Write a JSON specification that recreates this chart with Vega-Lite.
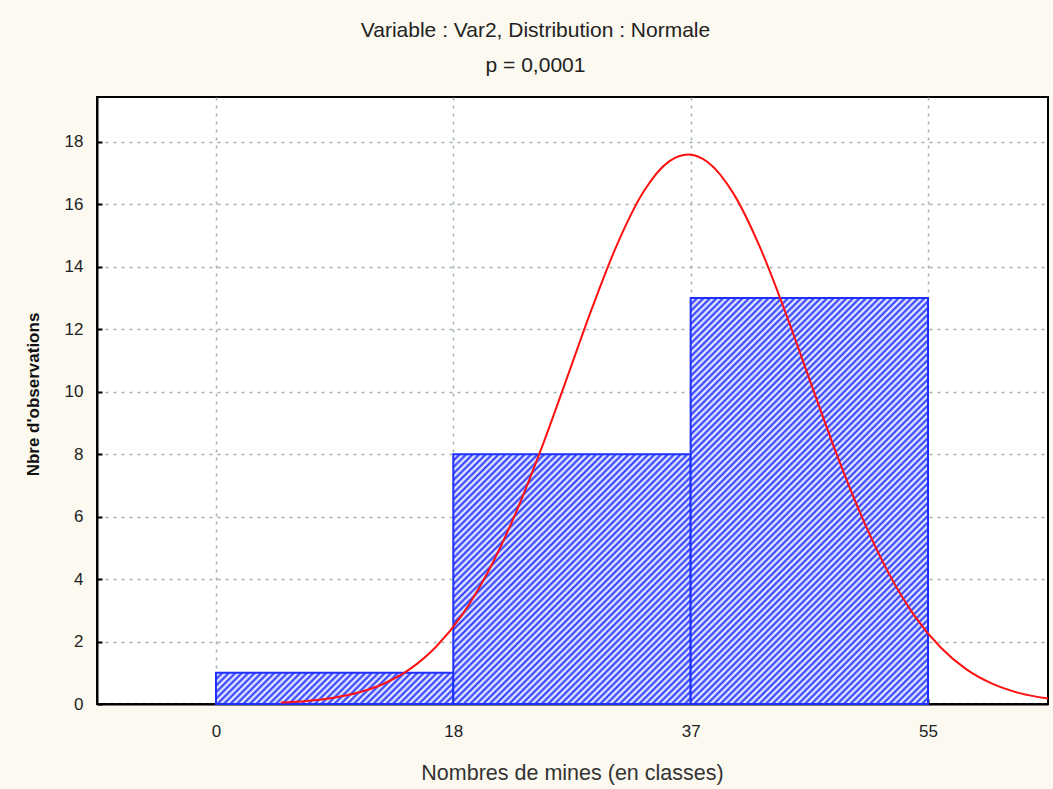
{
  "$schema": "https://vega.github.io/schema/vega-lite/v6.json",
  "width": 951,
  "height": 607,
  "autosize": {"type": "none"},
  "padding": {"left": 97, "top": 97, "right": 5, "bottom": 85},
  "background": "#fcf9f0",
  "title": {
    "text": ["Variable : Var2, Distribution : Normale", "p = 0,0001"],
    "font": "Liberation Sans",
    "fontSize": 21,
    "fontWeight": "normal",
    "color": "#222222",
    "lineHeight": 35,
    "anchor": "middle",
    "baseline": "bottom",
    "dx": -37,
    "dy": 18,
    "offset": 18
  },
  "datasets": {
    "bars": [
      {"bin": "a", "x": 0, "x2": 18.333, "y": 1},
      {"bin": "b", "x": 18.333, "x2": 36.667, "y": 8},
      {"bin": "c", "x": 36.667, "x2": 55, "y": 13}
    ],
    "curve": [
      {"x": 5, "y": 0.048}, {"x": 7, "y": 0.099}, {"x": 9, "y": 0.195}, {"x": 11, "y": 0.366},
      {"x": 13, "y": 0.657}, {"x": 15, "y": 1.124}, {"x": 17, "y": 1.833}, {"x": 19, "y": 2.848},
      {"x": 21, "y": 4.22}, {"x": 23, "y": 5.965}, {"x": 25, "y": 8.033}, {"x": 27, "y": 10.31},
      {"x": 29, "y": 12.62}, {"x": 31, "y": 14.73}, {"x": 33, "y": 16.39}, {"x": 35, "y": 17.38},
      {"x": 36.5, "y": 17.6}, {"x": 38, "y": 17.35}, {"x": 40, "y": 16.33}, {"x": 42, "y": 14.65},
      {"x": 44, "y": 12.53}, {"x": 46, "y": 10.22}, {"x": 48, "y": 7.94}, {"x": 50, "y": 5.89},
      {"x": 52, "y": 4.16}, {"x": 54, "y": 2.8}, {"x": 56, "y": 1.8}, {"x": 58, "y": 1.1},
      {"x": 60, "y": 0.643}, {"x": 62, "y": 0.357}, {"x": 64.27, "y": 0.173}
    ]
  },
  "config": {
    "view": {"fill": "white", "stroke": "black", "strokeWidth": 2},
    "axis": {
      "labelFont": "Liberation Sans",
      "titleFont": "Liberation Sans",
      "labelFontSize": 17,
      "labelColor": "#222222",
      "domainColor": "black",
      "domainWidth": 2,
      "ticks": true,
      "tickSize": -5,
      "tickColor": "black",
      "tickWidth": 2,
      "grid": true,
      "gridColor": "#a2b2b0",
      "gridDash": [3, 5],
      "gridWidth": 1.5
    }
  },
  "layer": [
    {
      "data": {"name": "bars"},
      "transform": [{"filter": "datum.bin == 'a'"}],
      "mark": {
        "type": "rect",
        "stroke": "#1f30ff",
        "strokeWidth": 2,
        "fill": {
          "gradient": "linear", "x1": 0, "y1": 0, "x2": 2.6926, "y2": 0.3543,
          "stops": [
            {"offset":0,"color":"#23f"},{"offset":0.005,"color":"#fff"},{"offset":0.01,"color":"#23f"},{"offset":0.015,"color":"#fff"},
            {"offset":0.02,"color":"#23f"},{"offset":0.025,"color":"#fff"},{"offset":0.03,"color":"#23f"},{"offset":0.035,"color":"#fff"},
            {"offset":0.04,"color":"#23f"},{"offset":0.045,"color":"#fff"},{"offset":0.05,"color":"#23f"},{"offset":0.055,"color":"#fff"},
            {"offset":0.06,"color":"#23f"},{"offset":0.065,"color":"#fff"},{"offset":0.07,"color":"#23f"},{"offset":0.075,"color":"#fff"},
            {"offset":0.08,"color":"#23f"},{"offset":0.085,"color":"#fff"},{"offset":0.09,"color":"#23f"},{"offset":0.095,"color":"#fff"},
            {"offset":0.1,"color":"#23f"},{"offset":0.105,"color":"#fff"},{"offset":0.11,"color":"#23f"},{"offset":0.115,"color":"#fff"},
            {"offset":0.12,"color":"#23f"},{"offset":0.125,"color":"#fff"},{"offset":0.13,"color":"#23f"},{"offset":0.135,"color":"#fff"},
            {"offset":0.14,"color":"#23f"},{"offset":0.145,"color":"#fff"},{"offset":0.15,"color":"#23f"},{"offset":0.155,"color":"#fff"},
            {"offset":0.16,"color":"#23f"},{"offset":0.165,"color":"#fff"},{"offset":0.17,"color":"#23f"},{"offset":0.175,"color":"#fff"},
            {"offset":0.18,"color":"#23f"},{"offset":0.185,"color":"#fff"},{"offset":0.19,"color":"#23f"},{"offset":0.195,"color":"#fff"},
            {"offset":0.2,"color":"#23f"},{"offset":0.205,"color":"#fff"},{"offset":0.21,"color":"#23f"},{"offset":0.215,"color":"#fff"},
            {"offset":0.22,"color":"#23f"},{"offset":0.225,"color":"#fff"},{"offset":0.23,"color":"#23f"},{"offset":0.235,"color":"#fff"},
            {"offset":0.24,"color":"#23f"},{"offset":0.245,"color":"#fff"},{"offset":0.25,"color":"#23f"},{"offset":0.255,"color":"#fff"},
            {"offset":0.26,"color":"#23f"},{"offset":0.265,"color":"#fff"},{"offset":0.27,"color":"#23f"},{"offset":0.275,"color":"#fff"},
            {"offset":0.28,"color":"#23f"},{"offset":0.285,"color":"#fff"},{"offset":0.29,"color":"#23f"},{"offset":0.295,"color":"#fff"},
            {"offset":0.3,"color":"#23f"},{"offset":0.305,"color":"#fff"},{"offset":0.31,"color":"#23f"},{"offset":0.315,"color":"#fff"},
            {"offset":0.32,"color":"#23f"},{"offset":0.325,"color":"#fff"},{"offset":0.33,"color":"#23f"},{"offset":0.335,"color":"#fff"},
            {"offset":0.34,"color":"#23f"},{"offset":0.345,"color":"#fff"},{"offset":0.35,"color":"#23f"},{"offset":0.355,"color":"#fff"},
            {"offset":0.36,"color":"#23f"},{"offset":0.365,"color":"#fff"},{"offset":0.37,"color":"#23f"},{"offset":0.375,"color":"#fff"},
            {"offset":0.38,"color":"#23f"},{"offset":0.385,"color":"#fff"},{"offset":0.39,"color":"#23f"},{"offset":0.395,"color":"#fff"},
            {"offset":0.4,"color":"#23f"},{"offset":0.405,"color":"#fff"},{"offset":0.41,"color":"#23f"},{"offset":0.415,"color":"#fff"}
          ]
        }
      },
      "encoding": {
        "x": {
          "field": "x", "type": "quantitative",
          "scale": {"domain": [-9.19, 64.27], "nice": false, "zero": false},
          "axis": {
            "title": "Nombres de mines (en classes)",
            "titleFontSize": 21.5,
            "titleFontWeight": "normal",
            "titleColor": "#333333",
            "titleX": 475,
            "titleY": 69,
            "titleBaseline": "middle",
            "titleAlign": "center",
            "values": [0, 18.333, 36.667, 55],
            "format": "d",
            "labelPadding": 24
          }
        },
        "x2": {"field": "x2"},
        "y": {
          "field": "y", "type": "quantitative",
          "scale": {"domain": [0, 19.44], "nice": false},
          "axis": {
            "title": "Nbre d'observations",
            "titleFontSize": 17,
            "titleFontWeight": "bold",
            "titleColor": "#111111",
            "titleX": -64,
            "titleY": 297,
            "titleAngle": 270,
            "titleAlign": "center",
            "titleBaseline": "middle",
            "values": [0, 2, 4, 6, 8, 10, 12, 14, 16, 18],
            "format": "d",
            "labelPadding": 19
          }
        },
        "y2": {"datum": 0}
      }
    },
    {
      "data": {"name": "bars"},
      "transform": [{"filter": "datum.bin == 'b'"}],
      "mark": {
        "type": "rect",
        "stroke": "#1f30ff",
        "strokeWidth": 2,
        "fill": {
          "gradient": "linear", "x1": 0, "y1": 0, "x2": 1.2993, "y2": 1.3678,
          "stops": [
            {"offset":0,"color":"#23f"},{"offset":0.005,"color":"#fff"},{"offset":0.01,"color":"#23f"},{"offset":0.015,"color":"#fff"},
            {"offset":0.02,"color":"#23f"},{"offset":0.025,"color":"#fff"},{"offset":0.03,"color":"#23f"},{"offset":0.035,"color":"#fff"},
            {"offset":0.04,"color":"#23f"},{"offset":0.045,"color":"#fff"},{"offset":0.05,"color":"#23f"},{"offset":0.055,"color":"#fff"},
            {"offset":0.06,"color":"#23f"},{"offset":0.065,"color":"#fff"},{"offset":0.07,"color":"#23f"},{"offset":0.075,"color":"#fff"},
            {"offset":0.08,"color":"#23f"},{"offset":0.085,"color":"#fff"},{"offset":0.09,"color":"#23f"},{"offset":0.095,"color":"#fff"},
            {"offset":0.1,"color":"#23f"},{"offset":0.105,"color":"#fff"},{"offset":0.11,"color":"#23f"},{"offset":0.115,"color":"#fff"},
            {"offset":0.12,"color":"#23f"},{"offset":0.125,"color":"#fff"},{"offset":0.13,"color":"#23f"},{"offset":0.135,"color":"#fff"},
            {"offset":0.14,"color":"#23f"},{"offset":0.145,"color":"#fff"},{"offset":0.15,"color":"#23f"},{"offset":0.155,"color":"#fff"},
            {"offset":0.16,"color":"#23f"},{"offset":0.165,"color":"#fff"},{"offset":0.17,"color":"#23f"},{"offset":0.175,"color":"#fff"},
            {"offset":0.18,"color":"#23f"},{"offset":0.185,"color":"#fff"},{"offset":0.19,"color":"#23f"},{"offset":0.195,"color":"#fff"},
            {"offset":0.2,"color":"#23f"},{"offset":0.205,"color":"#fff"},{"offset":0.21,"color":"#23f"},{"offset":0.215,"color":"#fff"},
            {"offset":0.22,"color":"#23f"},{"offset":0.225,"color":"#fff"},{"offset":0.23,"color":"#23f"},{"offset":0.235,"color":"#fff"},
            {"offset":0.24,"color":"#23f"},{"offset":0.245,"color":"#fff"},{"offset":0.25,"color":"#23f"},{"offset":0.255,"color":"#fff"},
            {"offset":0.26,"color":"#23f"},{"offset":0.265,"color":"#fff"},{"offset":0.27,"color":"#23f"},{"offset":0.275,"color":"#fff"},
            {"offset":0.28,"color":"#23f"},{"offset":0.285,"color":"#fff"},{"offset":0.29,"color":"#23f"},{"offset":0.295,"color":"#fff"},
            {"offset":0.3,"color":"#23f"},{"offset":0.305,"color":"#fff"},{"offset":0.31,"color":"#23f"},{"offset":0.315,"color":"#fff"},
            {"offset":0.32,"color":"#23f"},{"offset":0.325,"color":"#fff"},{"offset":0.33,"color":"#23f"},{"offset":0.335,"color":"#fff"},
            {"offset":0.34,"color":"#23f"},{"offset":0.345,"color":"#fff"},{"offset":0.35,"color":"#23f"},{"offset":0.355,"color":"#fff"},
            {"offset":0.36,"color":"#23f"},{"offset":0.365,"color":"#fff"},{"offset":0.37,"color":"#23f"},{"offset":0.375,"color":"#fff"},
            {"offset":0.38,"color":"#23f"},{"offset":0.385,"color":"#fff"},{"offset":0.39,"color":"#23f"},{"offset":0.395,"color":"#fff"},
            {"offset":0.4,"color":"#23f"},{"offset":0.405,"color":"#fff"},{"offset":0.41,"color":"#23f"},{"offset":0.415,"color":"#fff"},
            {"offset":0.42,"color":"#23f"},{"offset":0.425,"color":"#fff"},{"offset":0.43,"color":"#23f"},{"offset":0.435,"color":"#fff"},
            {"offset":0.44,"color":"#23f"},{"offset":0.445,"color":"#fff"},{"offset":0.45,"color":"#23f"},{"offset":0.455,"color":"#fff"},
            {"offset":0.46,"color":"#23f"},{"offset":0.465,"color":"#fff"},{"offset":0.47,"color":"#23f"},{"offset":0.475,"color":"#fff"},
            {"offset":0.48,"color":"#23f"},{"offset":0.485,"color":"#fff"},{"offset":0.49,"color":"#23f"},{"offset":0.495,"color":"#fff"},
            {"offset":0.5,"color":"#23f"},{"offset":0.505,"color":"#fff"},{"offset":0.51,"color":"#23f"},{"offset":0.515,"color":"#fff"},
            {"offset":0.52,"color":"#23f"},{"offset":0.525,"color":"#fff"},{"offset":0.53,"color":"#23f"},{"offset":0.535,"color":"#fff"},
            {"offset":0.54,"color":"#23f"},{"offset":0.545,"color":"#fff"},{"offset":0.55,"color":"#23f"},{"offset":0.555,"color":"#fff"},
            {"offset":0.56,"color":"#23f"},{"offset":0.565,"color":"#fff"},{"offset":0.57,"color":"#23f"},{"offset":0.575,"color":"#fff"},
            {"offset":0.58,"color":"#23f"},{"offset":0.585,"color":"#fff"},{"offset":0.59,"color":"#23f"},{"offset":0.595,"color":"#fff"},
            {"offset":0.6,"color":"#23f"},{"offset":0.605,"color":"#fff"},{"offset":0.61,"color":"#23f"},{"offset":0.615,"color":"#fff"},
            {"offset":0.62,"color":"#23f"},{"offset":0.625,"color":"#fff"},{"offset":0.63,"color":"#23f"},{"offset":0.635,"color":"#fff"},
            {"offset":0.64,"color":"#23f"},{"offset":0.645,"color":"#fff"},{"offset":0.65,"color":"#23f"},{"offset":0.655,"color":"#fff"},
            {"offset":0.66,"color":"#23f"},{"offset":0.665,"color":"#fff"},{"offset":0.67,"color":"#23f"},{"offset":0.675,"color":"#fff"},
            {"offset":0.68,"color":"#23f"},{"offset":0.685,"color":"#fff"},{"offset":0.69,"color":"#23f"},{"offset":0.695,"color":"#fff"},
            {"offset":0.7,"color":"#23f"},{"offset":0.705,"color":"#fff"},{"offset":0.71,"color":"#23f"},{"offset":0.715,"color":"#fff"},
            {"offset":0.72,"color":"#23f"},{"offset":0.725,"color":"#fff"},{"offset":0.73,"color":"#23f"},{"offset":0.735,"color":"#fff"},
            {"offset":0.74,"color":"#23f"},{"offset":0.745,"color":"#fff"},{"offset":0.75,"color":"#23f"},{"offset":0.755,"color":"#fff"}
          ]
        }
      },
      "encoding": {
        "x": {"field": "x", "type": "quantitative"},
        "x2": {"field": "x2"},
        "y": {"field": "y", "type": "quantitative"},
        "y2": {"datum": 0}
      }
    },
    {
      "data": {"name": "bars"},
      "transform": [{"filter": "datum.bin == 'c'"}],
      "mark": {
        "type": "rect",
        "stroke": "#1f30ff",
        "strokeWidth": 2,
        "fill": {
          "gradient": "linear", "x1": 0, "y1": 0, "x2": 0.6977, "y2": 1.1935,
          "stops": [
            {"offset":0,"color":"#23f"},{"offset":0.005,"color":"#fff"},{"offset":0.01,"color":"#23f"},{"offset":0.015,"color":"#fff"},
            {"offset":0.02,"color":"#23f"},{"offset":0.025,"color":"#fff"},{"offset":0.03,"color":"#23f"},{"offset":0.035,"color":"#fff"},
            {"offset":0.04,"color":"#23f"},{"offset":0.045,"color":"#fff"},{"offset":0.05,"color":"#23f"},{"offset":0.055,"color":"#fff"},
            {"offset":0.06,"color":"#23f"},{"offset":0.065,"color":"#fff"},{"offset":0.07,"color":"#23f"},{"offset":0.075,"color":"#fff"},
            {"offset":0.08,"color":"#23f"},{"offset":0.085,"color":"#fff"},{"offset":0.09,"color":"#23f"},{"offset":0.095,"color":"#fff"},
            {"offset":0.1,"color":"#23f"},{"offset":0.105,"color":"#fff"},{"offset":0.11,"color":"#23f"},{"offset":0.115,"color":"#fff"},
            {"offset":0.12,"color":"#23f"},{"offset":0.125,"color":"#fff"},{"offset":0.13,"color":"#23f"},{"offset":0.135,"color":"#fff"},
            {"offset":0.14,"color":"#23f"},{"offset":0.145,"color":"#fff"},{"offset":0.15,"color":"#23f"},{"offset":0.155,"color":"#fff"},
            {"offset":0.16,"color":"#23f"},{"offset":0.165,"color":"#fff"},{"offset":0.17,"color":"#23f"},{"offset":0.175,"color":"#fff"},
            {"offset":0.18,"color":"#23f"},{"offset":0.185,"color":"#fff"},{"offset":0.19,"color":"#23f"},{"offset":0.195,"color":"#fff"},
            {"offset":0.2,"color":"#23f"},{"offset":0.205,"color":"#fff"},{"offset":0.21,"color":"#23f"},{"offset":0.215,"color":"#fff"},
            {"offset":0.22,"color":"#23f"},{"offset":0.225,"color":"#fff"},{"offset":0.23,"color":"#23f"},{"offset":0.235,"color":"#fff"},
            {"offset":0.24,"color":"#23f"},{"offset":0.245,"color":"#fff"},{"offset":0.25,"color":"#23f"},{"offset":0.255,"color":"#fff"},
            {"offset":0.26,"color":"#23f"},{"offset":0.265,"color":"#fff"},{"offset":0.27,"color":"#23f"},{"offset":0.275,"color":"#fff"},
            {"offset":0.28,"color":"#23f"},{"offset":0.285,"color":"#fff"},{"offset":0.29,"color":"#23f"},{"offset":0.295,"color":"#fff"},
            {"offset":0.3,"color":"#23f"},{"offset":0.305,"color":"#fff"},{"offset":0.31,"color":"#23f"},{"offset":0.315,"color":"#fff"},
            {"offset":0.32,"color":"#23f"},{"offset":0.325,"color":"#fff"},{"offset":0.33,"color":"#23f"},{"offset":0.335,"color":"#fff"},
            {"offset":0.34,"color":"#23f"},{"offset":0.345,"color":"#fff"},{"offset":0.35,"color":"#23f"},{"offset":0.355,"color":"#fff"},
            {"offset":0.36,"color":"#23f"},{"offset":0.365,"color":"#fff"},{"offset":0.37,"color":"#23f"},{"offset":0.375,"color":"#fff"},
            {"offset":0.38,"color":"#23f"},{"offset":0.385,"color":"#fff"},{"offset":0.39,"color":"#23f"},{"offset":0.395,"color":"#fff"},
            {"offset":0.4,"color":"#23f"},{"offset":0.405,"color":"#fff"},{"offset":0.41,"color":"#23f"},{"offset":0.415,"color":"#fff"},
            {"offset":0.42,"color":"#23f"},{"offset":0.425,"color":"#fff"},{"offset":0.43,"color":"#23f"},{"offset":0.435,"color":"#fff"},
            {"offset":0.44,"color":"#23f"},{"offset":0.445,"color":"#fff"},{"offset":0.45,"color":"#23f"},{"offset":0.455,"color":"#fff"},
            {"offset":0.46,"color":"#23f"},{"offset":0.465,"color":"#fff"},{"offset":0.47,"color":"#23f"},{"offset":0.475,"color":"#fff"},
            {"offset":0.48,"color":"#23f"},{"offset":0.485,"color":"#fff"},{"offset":0.49,"color":"#23f"},{"offset":0.495,"color":"#fff"},
            {"offset":0.5,"color":"#23f"},{"offset":0.505,"color":"#fff"},{"offset":0.51,"color":"#23f"},{"offset":0.515,"color":"#fff"},
            {"offset":0.52,"color":"#23f"},{"offset":0.525,"color":"#fff"},{"offset":0.53,"color":"#23f"},{"offset":0.535,"color":"#fff"},
            {"offset":0.54,"color":"#23f"},{"offset":0.545,"color":"#fff"},{"offset":0.55,"color":"#23f"},{"offset":0.555,"color":"#fff"},
            {"offset":0.56,"color":"#23f"},{"offset":0.565,"color":"#fff"},{"offset":0.57,"color":"#23f"},{"offset":0.575,"color":"#fff"},
            {"offset":0.58,"color":"#23f"},{"offset":0.585,"color":"#fff"},{"offset":0.59,"color":"#23f"},{"offset":0.595,"color":"#fff"},
            {"offset":0.6,"color":"#23f"},{"offset":0.605,"color":"#fff"},{"offset":0.61,"color":"#23f"},{"offset":0.615,"color":"#fff"},
            {"offset":0.62,"color":"#23f"},{"offset":0.625,"color":"#fff"},{"offset":0.63,"color":"#23f"},{"offset":0.635,"color":"#fff"},
            {"offset":0.64,"color":"#23f"},{"offset":0.645,"color":"#fff"},{"offset":0.65,"color":"#23f"},{"offset":0.655,"color":"#fff"},
            {"offset":0.66,"color":"#23f"},{"offset":0.665,"color":"#fff"},{"offset":0.67,"color":"#23f"},{"offset":0.675,"color":"#fff"},
            {"offset":0.68,"color":"#23f"},{"offset":0.685,"color":"#fff"},{"offset":0.69,"color":"#23f"},{"offset":0.695,"color":"#fff"},
            {"offset":0.7,"color":"#23f"},{"offset":0.705,"color":"#fff"},{"offset":0.71,"color":"#23f"},{"offset":0.715,"color":"#fff"},
            {"offset":0.72,"color":"#23f"},{"offset":0.725,"color":"#fff"},{"offset":0.73,"color":"#23f"},{"offset":0.735,"color":"#fff"},
            {"offset":0.74,"color":"#23f"},{"offset":0.745,"color":"#fff"},{"offset":0.75,"color":"#23f"},{"offset":0.755,"color":"#fff"},
            {"offset":0.76,"color":"#23f"},{"offset":0.765,"color":"#fff"},{"offset":0.77,"color":"#23f"},{"offset":0.775,"color":"#fff"},
            {"offset":0.78,"color":"#23f"},{"offset":0.785,"color":"#fff"},{"offset":0.79,"color":"#23f"},{"offset":0.795,"color":"#fff"},
            {"offset":0.8,"color":"#23f"},{"offset":0.805,"color":"#fff"},{"offset":0.81,"color":"#23f"},{"offset":0.815,"color":"#fff"},
            {"offset":0.82,"color":"#23f"},{"offset":0.825,"color":"#fff"},{"offset":0.83,"color":"#23f"},{"offset":0.835,"color":"#fff"},
            {"offset":0.84,"color":"#23f"},{"offset":0.845,"color":"#fff"},{"offset":0.85,"color":"#23f"},{"offset":0.855,"color":"#fff"},
            {"offset":0.86,"color":"#23f"},{"offset":0.865,"color":"#fff"},{"offset":0.87,"color":"#23f"},{"offset":0.875,"color":"#fff"},
            {"offset":0.88,"color":"#23f"},{"offset":0.885,"color":"#fff"},{"offset":0.89,"color":"#23f"},{"offset":0.895,"color":"#fff"},
            {"offset":0.9,"color":"#23f"},{"offset":0.905,"color":"#fff"},{"offset":0.91,"color":"#23f"},{"offset":0.915,"color":"#fff"},
            {"offset":0.92,"color":"#23f"},{"offset":0.925,"color":"#fff"},{"offset":0.93,"color":"#23f"},{"offset":0.935,"color":"#fff"},
            {"offset":0.94,"color":"#23f"},{"offset":0.945,"color":"#fff"},{"offset":0.95,"color":"#23f"},{"offset":0.955,"color":"#fff"},
            {"offset":0.96,"color":"#23f"},{"offset":0.965,"color":"#fff"},{"offset":0.97,"color":"#23f"},{"offset":0.975,"color":"#fff"},
            {"offset":0.98,"color":"#23f"},{"offset":0.985,"color":"#fff"},{"offset":0.99,"color":"#23f"},{"offset":0.995,"color":"#fff"},
            {"offset":1,"color":"#23f"}
          ]
        }
      },
      "encoding": {
        "x": {"field": "x", "type": "quantitative"},
        "x2": {"field": "x2"},
        "y": {"field": "y", "type": "quantitative"},
        "y2": {"datum": 0}
      }
    },
    {
      "data": {"name": "curve"},
      "mark": {"type": "line", "color": "#ff1010", "strokeWidth": 2, "interpolate": "monotone"},
      "encoding": {
        "x": {"field": "x", "type": "quantitative"},
        "y": {"field": "y", "type": "quantitative"}
      }
    }
  ]
}
